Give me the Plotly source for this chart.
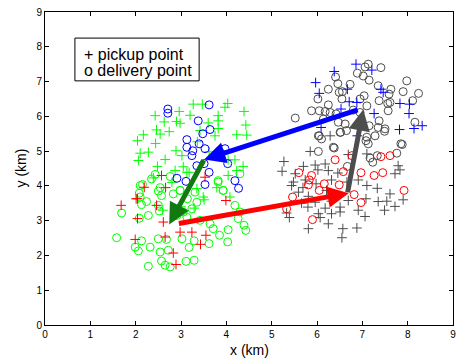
import plotly.graph_objects as go

# ---- data (km) ----
green_pick_x = [2.43,2.96,3.27,3.47,4.03,3.97,4.39,3.20,2.63,2.90,2.98,3.82,3.82,3.60,4.43,2.46,2.17,2.54,2.74,3.42,3.82,4.23,4.45,2.04,2.44,2.89,3.75,2.10,2.28,2.65,3.02,2.06,4.04,4.19,4.37,2.48,2.87,3.13,4.23,3.79,3.49,2.39,3.18,4.04,3.51,3.35,3.29,4.08,3.36,3.62,3.05,2.80,3.00,2.60]
green_pick_y = [6.02,6.14,6.35,6.35,6.37,6.26,6.14,6.03,5.84,5.85,5.80,6.02,5.87,5.81,5.75,5.61,5.47,5.49,5.56,5.59,5.65,5.47,5.46,5.30,5.22,5.01,5.44,4.94,4.97,4.76,4.87,4.73,4.75,4.75,4.56,4.56,4.44,4.39,4.44,3.95,3.68,4.23,4.39,4.30,3.60,3.92,3.36,3.68,5.27,4.98,4.55,4.10,3.40,3.30]

green_del_x = [2.15,2.08,2.10,2.13,2.24,1.69,2.08,2.28,2.52,2.50,2.83,2.57,2.50,2.98,3.14,3.35,3.24,3.05,2.91,3.13,3.42,3.64,3.71,3.85,4.04,4.26,4.39,4.43,4.19,4.30,3.93,3.82,1.58,1.99,2.06,2.13,2.32,2.50,2.68,3.02,3.18,3.29,3.62,4.03,2.54,2.72,2.57,2.65,2.76,2.28,3.11,3.29,2.43,2.10,2.35,2.76,2.98,3.31,3.82,3.93,2.54,4.30]
green_del_y = [4.04,3.79,3.68,3.46,3.55,3.22,3.07,3.15,3.28,3.44,3.77,3.72,3.85,3.87,3.63,3.53,3.34,3.25,3.15,3.10,3.01,2.91,2.77,2.58,2.74,3.06,2.87,2.72,3.44,3.25,3.87,4.11,2.51,2.24,2.13,2.42,2.24,2.48,2.46,2.48,2.23,2.42,2.34,2.39,2.10,2.15,1.84,1.72,1.67,1.69,1.83,1.86,4.33,4.01,4.20,4.27,3.87,3.82,4.15,3.87,3.95,4.35]

blue_pick_x = [6.86,6.38,7.21,5.97,6.05,6.67,7.41,7.46,6.71,6.88,7.83,8.04,8.03,6.53,7.26,6.09,7.82,8.14,6.89,8.32]
blue_pick_y = [7.50,7.29,7.33,6.97,6.66,6.78,6.78,6.69,6.42,6.40,6.37,6.35,6.08,6.21,6.08,5.68,5.62,5.65,5.44,5.73]

blue_del_x = [2.71,2.71,3.62,3.38,3.64,3.48,3.13,3.40,3.26,3.53,3.13,3.24,3.97,3.88,3.35,3.51,3.62,4.03,2.91,3.11,3.53,4.19,4.27]
blue_del_y = [6.21,6.09,6.33,5.87,5.62,5.50,5.33,5.21,5.01,5.07,5.11,4.87,5.07,4.94,4.58,4.64,4.39,4.64,4.22,4.13,4.04,4.15,3.93]

red_pick_x = [2.57,2.19,2.66,3.53,2.01,1.68,2.04,2.46,2.04,2.61,2.98,3.24,2.65,1.99,3.55,3.43,2.83,2.89,3.99]
red_pick_y = [4.30,3.96,3.95,4.25,3.63,3.44,3.63,3.44,3.06,2.96,2.67,2.67,2.53,2.46,2.58,2.32,2.07,1.74,3.58]

red_del_x = [6.40,6.77,7.41,7.61,6.97,7.26,7.45,6.58,5.60,5.88,5.83,5.81,6.16,6.49,6.05,5.46,6.82,6.97,5.33,7.92,5.90]
red_del_y = [4.75,4.87,4.84,4.87,4.38,4.30,4.38,4.41,4.38,4.30,4.17,4.03,4.06,4.03,3.87,3.68,3.75,3.52,3.34,3.87,3.03]

gray_pick_x = [5.85,5.27,5.23,5.70,5.96,6.18,6.25,6.46,6.02,5.52,5.48,5.44,5.74,5.69,5.98,6.32,6.66,6.91,7.10,7.72,7.79,7.83,7.33,7.61,6.43,6.21,5.59,5.81,5.96,6.32,6.69,6.51,6.91,7.08,7.35,7.54,7.72,7.49,7.90,5.66,5.80,6.18,5.33,5.39,6.03,6.07,6.32,6.51,7.06,6.25,5.81,6.57,6.88,6.55,6.69,7.10,6.29]
gray_pick_y = [4.99,4.70,4.42,4.56,4.60,4.63,4.44,4.37,4.46,4.35,4.11,4.01,4.17,3.95,4.06,4.17,4.11,4.17,4.01,4.35,4.58,4.46,3.93,3.77,3.72,3.87,3.82,3.70,3.53,3.56,3.58,3.39,3.30,3.63,3.55,3.56,3.41,3.30,3.60,3.50,3.39,3.36,3.22,3.09,3.20,3.09,3.20,3.25,3.12,2.91,2.77,2.77,2.79,2.51,4.90,4.92,5.44]

gray_del_x = [7.13,7.06,7.41,6.89,6.41,7.02,7.15,6.46,7.98,6.25,6.73,7.35,7.63,7.90,8.24,6.49,6.56,7.59,7.04,6.55,6.95,6.02,7.37,7.61,8.11,6.25,7.56,7.10,5.88,6.05,6.18,6.29,6.42,6.80,7.57,5.52,6.14,6.47,6.62,7.37,7.50,6.51,6.65,7.35,6.03,6.10,6.36,7.08,7.28,7.85,8.16,7.15,6.95,6.05,6.52,6.38,6.03,6.67,7.17,7.23,7.33,7.76,7.88,7.13,7.10,7.49]
gray_del_y = [7.50,7.42,7.40,7.24,7.13,7.16,7.04,6.94,7.02,6.78,6.92,6.88,6.78,6.71,6.66,6.69,6.71,6.64,6.59,6.50,6.50,6.50,6.45,6.40,6.45,6.33,6.37,6.30,6.16,6.16,6.14,6.11,6.07,6.18,6.16,5.95,5.92,5.83,5.78,5.87,5.64,5.54,5.59,5.68,5.44,5.35,5.11,5.30,5.44,5.21,5.83,5.73,6.11,5.44,5.54,5.09,4.99,4.56,4.80,4.68,4.87,4.94,5.19,5.21,5.40,5.57]

# centroid arrows: (tail x, tail y, head x, head y, colour)
arrow_tail_x = [6.93, 3.52, 2.92, 6.67]
arrow_tail_y = [6.20, 4.78, 2.91, 3.77]
arrow_head_x = [3.51, 2.74, 6.70, 7.02]
arrow_head_y = [4.76, 2.89, 3.79, 6.20]
arrow_colors = ["#0000ff", "#107a10", "#ff0000", "#4d4d4d"]

legend_lines = ["+ pickup point", "o delivery point"]

tick_vals = list(range(0, 10))

GREEN = "#00ff00"
BLUE = "#0000ff"
RED = "#ff0000"
GRAY = "#4d4d4d"
FONT = "Liberation Sans, Arial, sans-serif"

fig = go.Figure()

def plus(x, y, c):
    fig.add_trace(go.Scatter(x=x, y=y, mode="markers", showlegend=False, hoverinfo="skip",
                             marker=dict(symbol="cross-thin", size=7,
                                         line=dict(color=c, width=1))))

def circ(x, y, c):
    fig.add_trace(go.Scatter(x=x, y=y, mode="markers", showlegend=False, hoverinfo="skip",
                             marker=dict(symbol="circle-open", size=8, color=c,
                                         line=dict(color=c, width=1))))

plus(green_pick_x, green_pick_y, GREEN)
circ(green_del_x, green_del_y, GREEN)
plus(gray_pick_x, gray_pick_y, GRAY)
circ(gray_del_x, gray_del_y, GRAY)
circ(blue_del_x, blue_del_y, BLUE)
plus(blue_pick_x, blue_pick_y, BLUE)
plus(red_pick_x, red_pick_y, RED)
circ(red_del_x, red_del_y, RED)

for tx, ty, hx, hy, c in zip(arrow_tail_x, arrow_tail_y, arrow_head_x, arrow_head_y, arrow_colors):
    fig.add_annotation(x=hx, y=hy, ax=tx, ay=ty, xref="x", yref="y", axref="x", ayref="y",
                       showarrow=True, arrowhead=2, arrowsize=0.85, arrowwidth=5,
                       arrowcolor=c, text="")

# legend-like text box
fig.add_shape(type="rect", xref="x", yref="y", x0=0.66, x1=3.40, y0=7.02, y1=8.25,
              line=dict(color="black", width=1), fillcolor="white", layer="above")
for txt, yy in zip(legend_lines, [7.79, 7.31]):
    fig.add_annotation(x=0.82, y=yy, xref="x", yref="y", xanchor="left", yanchor="middle",
                       showarrow=False, text=txt,
                       font=dict(family=FONT, size=16, color="black"))

# axis titles
fig.add_annotation(x=0.5, y=0, xref="paper", yref="paper", xanchor="center", yanchor="middle",
                   yshift=-25, showarrow=False, text="x (km)",
                   font=dict(family=FONT, size=14, color="black"))
fig.add_annotation(x=0, y=0.5, xref="paper", yref="paper", xanchor="center", yanchor="middle",
                   xshift=-25, textangle=-90, showarrow=False, text="y (km)",
                   font=dict(family=FONT, size=14, color="black"))

axis_common = dict(range=[0, 9], tickvals=tick_vals, ticks="inside", ticklen=4,
                   tickcolor="black", showline=True, linecolor="black", linewidth=1,
                   mirror="ticks", showgrid=False, zeroline=False, automargin=False,
                   tickfont=dict(family=FONT, size=10, color="black"))

fig.update_layout(
    width=462, height=361,
    margin=dict(l=45, r=9, t=12, b=36),
    paper_bgcolor="white", plot_bgcolor="white",
    xaxis=dict(**axis_common),
    yaxis=dict(**axis_common),
)

fig.write_html("out.html", config={"displayModeBar": False},
               post_script="document.body.style.margin='0';document.body.style.padding='0';")
